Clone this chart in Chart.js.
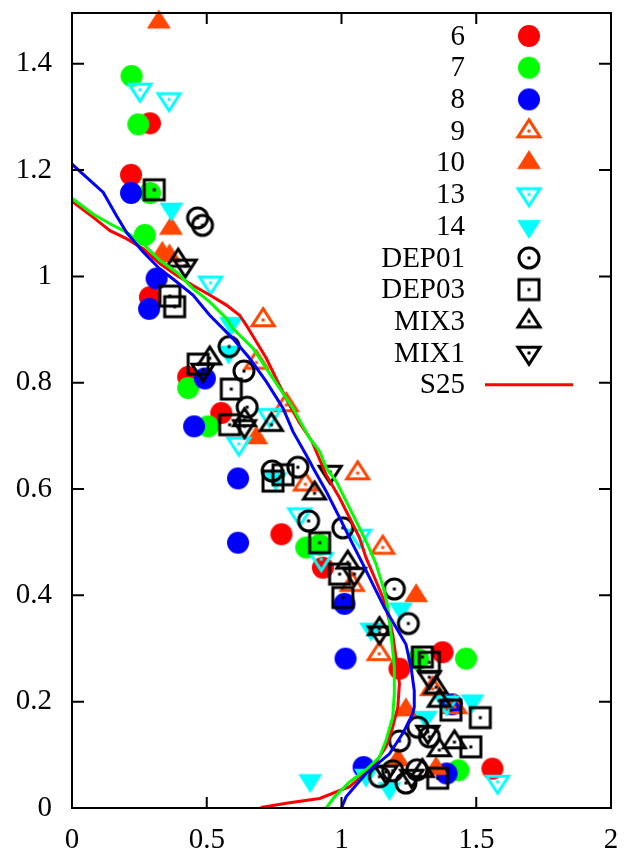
<!DOCTYPE html>
<html>
<head>
<meta charset="utf-8">
<script src="https://cdn.jsdelivr.net/npm/chart.js@4.4.1/dist/chart.umd.min.js"></script>
<style>
  html, body { margin: 0; padding: 0; background: #fff; }
  canvas { display: block; }
</style>
</head>
<body>
<canvas id="profileChart" width="624" height="854"></canvas>
<script>
const xTicks = [0, 0.5, 1, 1.5, 2];
const yTicks = [0, 0.2, 0.4, 0.6, 0.8, 1, 1.2, 1.4];
const seriesNames = ['6', '7', '8', '9', '10', '13', '14', 'DEP01', 'DEP03', 'MIX3', 'MIX1', 'S25'];

// measured points [x, y]
const run6 = [[0.289,1.288],[0.219,1.191],[0.289,0.961],[0.431,0.811],[0.554,0.743],[0.777,0.515],[0.931,0.452],[1.215,0.262],[1.375,0.293],[1.560,0.074]];
const run7 = [[0.221,1.377],[0.246,1.286],[0.289,1.157],[0.270,1.078],[0.431,0.790],[0.505,0.718],[0.869,0.490],[0.919,0.495],[1.285,0.280],[1.462,0.281],[1.434,0.071]];
const run8 = [[0.219,1.157],[0.314,0.996],[0.286,0.939],[0.493,0.808],[0.453,0.718],[0.616,0.620],[0.616,0.499],[1.011,0.384],[1.015,0.281],[1.082,0.077],[1.410,0.195],[1.390,0.065]];
const run9 = [[0.709,0.918],[0.684,0.838],[0.795,0.758],[0.866,0.609],[1.060,0.630],[1.153,0.490],[1.040,0.420],[1.140,0.290],[1.338,0.224],[1.420,0.190]];
const run10 = [[0.322,1.478],[0.367,1.090],[0.335,1.043],[0.362,1.038],[0.684,0.696],[1.277,0.399],[1.239,0.184],[1.209,0.090],[1.351,0.074]];
const run13 = [[0.252,1.351],[0.360,1.333],[0.514,0.988],[0.733,0.739],[0.619,0.685],[0.845,0.552],[1.067,0.512],[0.925,0.468],[1.390,0.198],[1.579,0.049]];
const run14 = [[0.369,1.127],[0.590,0.912],[0.581,0.858],[0.756,0.620],[1.220,0.375],[1.110,0.337],[1.486,0.202],[1.313,0.171],[0.884,0.052],[1.091,0.062],[1.178,0.037]];
const dep01 = [[0.466,1.110],[0.484,1.096],[0.583,0.868],[0.638,0.822],[0.650,0.754],[0.743,0.634],[0.838,0.641],[0.878,0.540],[1.005,0.527],[1.196,0.412],[1.248,0.347],[1.283,0.152],[1.326,0.134],[1.215,0.126],[1.141,0.059],[1.239,0.047],[1.190,0.070],[1.280,0.072]];
const dep03 = [[0.305,1.163],[0.363,0.963],[0.381,0.943],[0.468,0.835],[0.591,0.788],[0.585,0.721],[0.746,0.615],[0.783,0.627],[0.919,0.499],[0.993,0.440],[1.005,0.396],[1.300,0.284],[1.326,0.274],[1.406,0.184],[1.515,0.170],[1.480,0.115],[1.357,0.056]];
const mix3 = [[0.394,1.030],[0.511,0.846],[0.640,0.730],[0.740,0.721],[0.900,0.592],[1.023,0.462],[1.141,0.337],[1.351,0.227],[1.363,0.202],[1.419,0.124],[1.363,0.109],[1.300,0.070]];
const mix1 = [[0.420,1.020],[0.486,0.824],[0.640,0.718],[0.958,0.632],[1.048,0.440],[1.141,0.330],[1.326,0.246],[1.320,0.143],[1.165,0.068],[1.260,0.060]];

// simulated profiles
const s25 = [[0,1.141],[0.079,1.111],[0.141,1.086],[0.202,1.071],[0.264,1.052],[0.326,1.024],[0.388,1.002],[0.449,0.983],[0.511,0.965],[0.573,0.946],[0.622,0.927],[0.647,0.908],[0.684,0.877],[0.721,0.846],[0.765,0.800],[0.807,0.758],[0.844,0.725],[0.890,0.690],[0.943,0.627],[0.993,0.583],[1.030,0.546],[1.067,0.508],[1.091,0.471],[1.128,0.427],[1.153,0.396],[1.165,0.377],[1.190,0.327],[1.202,0.284],[1.215,0.234],[1.209,0.190],[1.190,0.152],[1.165,0.115],[1.116,0.077],[1.030,0.040],[0.919,0.018],[0.807,0.010],[0.700,0.001]];
const greenRun = [[0,1.147],[0.079,1.117],[0.141,1.099],[0.202,1.083],[0.264,1.061],[0.326,1.030],[0.388,1.008],[0.449,0.977],[0.511,0.952],[0.573,0.921],[0.597,0.902],[0.671,0.865],[0.721,0.827],[0.770,0.790],[0.820,0.752],[0.881,0.696],[0.919,0.671],[0.943,0.640],[0.980,0.615],[1.042,0.552],[1.091,0.502],[1.128,0.459],[1.159,0.409],[1.172,0.377],[1.184,0.327],[1.196,0.265],[1.196,0.215],[1.190,0.171],[1.165,0.127],[1.141,0.096],[1.091,0.072],[1.030,0.049],[0.974,0.021],[0.943,0]];
const blueRun = [[0,1.211],[0.116,1.158],[0.165,1.114],[0.202,1.083],[0.264,1.046],[0.326,1.014],[0.375,0.995],[0.449,0.965],[0.511,0.927],[0.597,0.883],[0.659,0.846],[0.721,0.802],[0.783,0.752],[0.820,0.708],[0.869,0.664],[0.900,0.635],[0.943,0.596],[0.993,0.546],[1.042,0.496],[1.079,0.459],[1.116,0.421],[1.159,0.377],[1.202,0.340],[1.239,0.308],[1.258,0.265],[1.270,0.221],[1.270,0.190],[1.264,0.177],[1.227,0.140],[1.178,0.102],[1.091,0.065],[1.017,0.021],[1.000,0]];

const RED = '#ff0000', GREEN = '#00ff00', BLUE = '#0000ff', ORANGE = '#ff4500', CYAN = '#00ffff', BLACK = '#000000';
const FONT = '"Liberation Serif", "Times New Roman", serif';

// gnuplot-like markers drawn on small canvases
function makeMarker(shape, color, filled) {
    const size = 32;
    const c = document.createElement('canvas');
    c.width = size; c.height = size;
    const g = c.getContext('2d');
    const m = size / 2;
    g.fillStyle = color;
    g.strokeStyle = color;
    g.lineWidth = 3;
    g.lineJoin = 'miter';
    g.beginPath();
    if (shape === 'circle') {
        g.arc(m, m, filled ? 11 : 10, 0, Math.PI * 2);
    } else if (shape === 'square') {
        g.rect(m - 10, m - 10, 20, 20);
    } else if (shape === 'up') {
        const hw = filled ? 12 : 11, h = filled ? 19 : 17;
        g.moveTo(m, m - h * 2 / 3); g.lineTo(m + hw, m + h / 3); g.lineTo(m - hw, m + h / 3); g.closePath();
    } else if (shape === 'down') {
        const hw = filled ? 12 : 11, h = filled ? 19 : 17;
        g.moveTo(m, m + h * 2 / 3); g.lineTo(m + hw, m - h / 3); g.lineTo(m - hw, m - h / 3); g.closePath();
    }
    if (filled) {
        g.fill();
    } else {
        g.stroke();
        g.fillRect(m - 1.5, m - 1.5, 3, 3);
    }
    return c;
}

function pointSet(label, data, marker, color, order) {
    return {
        label: label,
        data: data.map(([x, y]) => ({ x: x, y: y })),
        pointStyle: marker,
        pointRadius: 12,
        backgroundColor: color,
        borderColor: color,
        showLine: false,
        clip: 16,
        order: order
    };
}

function lineSet(label, data, color, order) {
    return {
        label: label,
        data: data.map(([x, y]) => ({ x: x, y: y })),
        borderColor: color,
        backgroundColor: color,
        borderWidth: 3,
        pointRadius: 0,
        showLine: true,
        fill: false,
        tension: 0,
        order: order
    };
}

const datasets = [
    pointSet('6', run6, makeMarker('circle', RED, true), RED, 100),
    pointSet('7', run7, makeMarker('circle', GREEN, true), GREEN, 99),
    pointSet('8', run8, makeMarker('circle', BLUE, true), BLUE, 98),
    pointSet('9', run9, makeMarker('up', ORANGE, false), ORANGE, 97),
    pointSet('10', run10, makeMarker('up', ORANGE, true), ORANGE, 96),
    pointSet('13', run13, makeMarker('down', CYAN, false), CYAN, 95),
    pointSet('14', run14, makeMarker('down', CYAN, true), CYAN, 94),
    pointSet('DEP01', dep01, makeMarker('circle', BLACK, false), BLACK, 93),
    pointSet('DEP03', dep03, makeMarker('square', BLACK, false), BLACK, 92),
    pointSet('MIX3', mix3, makeMarker('up', BLACK, false), BLACK, 91),
    pointSet('MIX1', mix1, makeMarker('down', BLACK, false), BLACK, 90),
    lineSet('S25', s25, RED, 3),
    lineSet('green', greenRun, GREEN, 2),
    lineSet('blue', blueRun, BLUE, 1)
];

// border with inward ticks on all four sides
const framePlugin = {
    id: 'frame',
    afterDatasetsDraw(chart) {
        const { ctx, chartArea: a, scales } = chart;
        ctx.save();
        ctx.strokeStyle = '#000';
        ctx.lineWidth = 2;
        ctx.strokeRect(a.left, a.top, a.right - a.left, a.bottom - a.top);
        ctx.beginPath();
        xTicks.forEach(v => {
            const px = scales.x.getPixelForValue(v);
            ctx.moveTo(px, a.bottom); ctx.lineTo(px, a.bottom - 11);
            ctx.moveTo(px, a.top); ctx.lineTo(px, a.top + 11);
        });
        yTicks.forEach(v => {
            const py = scales.y.getPixelForValue(v);
            ctx.moveTo(a.left, py); ctx.lineTo(a.left + 12, py);
            ctx.moveTo(a.right, py); ctx.lineTo(a.right - 12, py);
        });
        ctx.stroke();
        ctx.restore();
    }
};

// key in the top right corner, labels right aligned with the sample on their right
const keyPlugin = {
    id: 'key',
    afterDatasetsDraw(chart) {
        const ctx = chart.ctx;
        ctx.save();
        ctx.font = '29px ' + FONT;
        ctx.fillStyle = '#000';
        ctx.textAlign = 'right';
        ctx.textBaseline = 'middle';
        seriesNames.forEach((name, i) => {
            const ty = 36 + i * 31.7;
            ctx.fillText(name, 465, ty + 1);
            const ds = chart.data.datasets.find(d => d.label === name);
            if (ds.showLine) {
                ctx.strokeStyle = ds.borderColor;
                ctx.lineWidth = 3;
                ctx.beginPath();
                ctx.moveTo(485, ty);
                ctx.lineTo(573, ty);
                ctx.stroke();
            } else {
                const img = ds.pointStyle;
                ctx.drawImage(img, 529 - img.width / 2, ty - img.height / 2);
            }
        });
        ctx.restore();
    }
};

const tickFmt = v => String(Math.round(v * 10) / 10);

new Chart(document.getElementById('profileChart').getContext('2d'), {
    type: 'scatter',
    data: { datasets: datasets },
    options: {
        responsive: false,
        animation: false,
        events: [],
        layout: { padding: { left: 0, right: 12, top: 10, bottom: 0 } },
        scales: {
            x: {
                type: 'linear',
                min: 0,
                max: 2,
                grid: { display: false, drawTicks: false },
                border: { display: false },
                afterBuildTicks: s => { s.ticks = xTicks.map(v => ({ value: v })); },
                afterFit: s => { s.height = 46; s.paddingLeft = 0; s.paddingRight = 0; },
                ticks: {
                    autoSkip: false,
                    maxRotation: 0,
                    padding: 15,
                    color: '#000',
                    font: { family: FONT, size: 29 },
                    callback: tickFmt
                }
            },
            y: {
                type: 'linear',
                min: 0,
                max: 1.4955,
                grid: { display: false, drawTicks: false },
                border: { display: false },
                afterBuildTicks: s => { s.ticks = yTicks.map(v => ({ value: v })); },
                afterFit: s => { s.width = 72; s.paddingTop = 0; s.paddingBottom = 0; },
                ticks: {
                    autoSkip: false,
                    padding: 20,
                    color: '#000',
                    font: { family: FONT, size: 29 },
                    callback: tickFmt
                }
            }
        },
        plugins: {
            legend: { display: false },
            tooltip: { enabled: false }
        }
    },
    plugins: [framePlugin, keyPlugin]
});
</script>
</body>
</html>
